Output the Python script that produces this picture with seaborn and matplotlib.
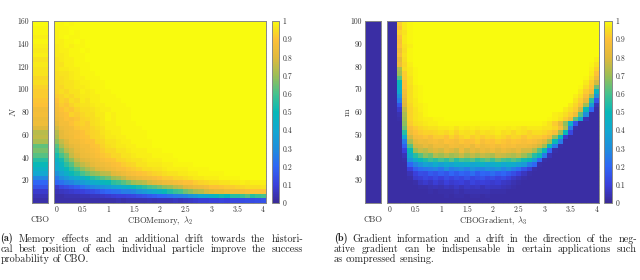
import numpy as np
import pandas as pd
import matplotlib
matplotlib.use('Agg')
import matplotlib.pyplot as plt
from matplotlib.colors import LinearSegmentedColormap
import seaborn as sns

N_COLS = 41


def row(head, tail=(), fill=100):
    # one heatmap row in percent, the long flat middle part is filled
    r = list(head) + [fill] * (N_COLS - len(head) - len(tail)) + list(tail)
    assert len(r) == N_COLS
    return r


lambdas = [i / 10 for i in range(N_COLS)]
n_values = list(range(160, 0, -4))
m_values = list(range(100, 20, -2))

cbo_memory = [100, 99, 99, 98, 99, 98, 97, 98, 96, 97, 96, 96, 94, 95, 93, 92, 92, 91, 90, 86,
              87, 84, 85, 80, 74, 75, 72, 63, 66, 62, 55, 50, 45, 40, 28, 20, 15, 8, 5, 3]
cbo_gradient = [2] * 40

memory_pct = [
    row([99, 99, 100, 99]),
    row([99, 99, 99]),
    row([98, 99, 99, 100, 99]),
    row([98, 99, 100, 99, 99]),
    row([98, 98, 99, 99, 100, 99]),
    row([97, 98, 99, 98, 99, 99]),
    row([97, 98, 98, 99, 99, 100, 99]),
    row([97, 97, 98, 99, 99, 99]),
    row([96, 97, 98, 98, 99, 99]),
    row([96, 96, 98, 98, 99, 99, 99]),
    row([96, 97, 97, 98, 98, 99, 99]),
    row([95, 96, 96, 97, 98, 99, 99, 99]),
    row([95, 95, 96, 97, 98, 98, 99, 99, 99]),
    row([94, 95, 96, 96, 97, 98, 98, 99, 99, 99]),
    row([94, 94, 96, 96, 97, 97, 98, 99, 99, 99]),
    row([93, 95, 94, 96, 96, 98, 97, 98, 99, 99, 99]),
    row([92, 93, 95, 94, 96, 97, 97, 98, 98, 99, 99, 99]),
    row([90, 93, 92, 95, 94, 97, 96, 98, 98, 99, 99, 99, 99]),
    row([88, 92, 91, 93, 95, 96, 96, 97, 98, 98, 99, 99, 99, 99]),
    row([87, 90, 92, 91, 93, 95, 95, 96, 97, 98, 98, 99, 99, 99, 99]),
    row([86, 88, 90, 93, 92, 94, 95, 95, 97, 97, 99, 98, 99, 99, 99]),
    row([84, 87, 90, 89, 91, 93, 94, 95, 96, 97, 99, 98, 99, 99, 99]),
    row([82, 87, 87, 90, 92, 93, 92, 95, 96, 97, 98, 98, 99, 99, 99, 99]),
    row([78, 84, 86, 87, 91, 92, 92, 94, 95, 96, 98, 98, 98, 99, 99, 99, 99]),
    row([74, 82, 85, 87, 88, 90, 92, 93, 94, 96, 97, 98, 98, 99, 99, 99, 99, 99]),
    row([72, 82, 84, 86, 89, 90, 91, 93, 94, 95, 97, 97, 98, 98, 99, 99, 99, 99]),
    row([68, 76, 80, 85, 86, 88, 90, 90, 93, 94, 96, 96, 97, 98, 98, 99, 99, 99, 99]),
    row([62, 72, 78, 82, 84, 87, 87, 90, 91, 93, 95, 96, 97, 97, 98, 98, 99, 99, 99]),
    row([58, 66, 74, 78, 83, 85, 87, 88, 90, 92, 94, 94, 96, 96, 97, 98, 98, 98, 99, 99, 99]),
    row([52, 60, 66, 76, 80, 84, 85, 87, 89, 91, 92, 94, 94, 96, 96, 97, 98, 98, 98, 99, 99, 99, 99]),
    row([46, 52, 62, 68, 76, 80, 82, 84, 86, 88, 90, 91, 93, 94, 95, 96, 96, 97, 98, 98, 98, 99, 99, 99]),
    row([42, 48, 56, 62, 70, 75, 78, 82, 84, 85, 87, 89, 90, 92, 93, 94, 96, 96, 97, 97, 97, 98, 98, 99, 99, 99, 99]),
    row([40, 44, 50, 56, 62, 68, 72, 76, 80, 82, 84, 86, 88, 89, 91, 92, 93, 95, 95, 96, 96, 97, 98, 98, 98, 98, 99, 99, 99, 99]),
    row([32, 38, 44, 50, 54, 60, 64, 68, 70, 74, 75, 80, 82, 84, 87, 88, 90, 91, 92, 93, 94, 95, 96, 96, 97, 97, 98, 98, 99, 99, 99, 99, 99]),
    row([25, 30, 34, 38, 42, 45, 50, 55, 58, 62, 65, 70, 72, 76, 80, 82, 84, 86, 87, 88, 90, 92, 92, 94, 94, 95, 96, 97, 97, 98, 98, 98, 99, 99, 99, 99]),
    row([20, 23, 26, 28, 32, 35, 38, 42, 44, 48, 50, 56, 58, 62, 66, 70, 72, 74, 78, 80, 82, 84, 85, 87, 88, 90, 90, 92, 93, 94, 95, 95, 96, 96, 97, 97, 98, 97, 98, 98, 98]),
    row([8, 12, 14, 16, 18, 22, 25, 28, 30, 32, 35, 38, 40, 44, 46, 50, 53, 56, 60, 62, 65, 68, 70, 74, 76, 80, 82, 84, 85, 87, 90, 90, 91, 92, 92, 93, 94, 95, 95, 95, 96]),
    row([5, 6, 7, 8, 9, 10, 12, 13, 15, 18, 20, 22, 23, 26, 26, 28, 32, 35, 38, 42, 45, 50, 54, 58, 60, 65, 68, 72, 74, 78, 80, 82, 82, 84, 85, 85, 87, 88, 90, 90, 90]),
    row([3, 3, 4, 4, 4, 5, 5, 6, 6, 7, 8, 9, 10, 10, 11, 12, 14, 15, 17, 18, 20, 21, 23, 25, 26, 28, 32, 35, 40, 40, 45, 48, 52, 50, 55, 55, 58, 62, 55, 58, 60]),
    row([3, 3, 3, 3, 3, 3, 3, 3, 3, 3, 3, 3, 4, 3, 4, 4, 4, 4, 5, 4, 5, 5, 5, 6, 5, 6, 7, 8, 9, 9, 10, 10, 11, 10, 12, 12, 13, 14, 13, 14, 15]),
]

gradient_pct = [
    row([2, 2, 92, 97, 99]),
    row([2, 2, 90, 97, 99]),
    row([2, 2, 93, 96, 99]),
    row([2, 2, 90, 97, 99]),
    row([2, 2, 88, 97, 99]),
    row([2, 2, 90, 96, 98]),
    row([2, 2, 85, 95, 99]),
    row([2, 2, 88, 96, 99]),
    row([2, 2, 82, 95, 99], [98]),
    row([2, 2, 84, 94, 98], [99, 96]),
    row([2, 2, 72, 95, 97, 99], [98, 93]),
    row([2, 2, 70, 92, 97, 99], [97, 90]),
    row([2, 2, 62, 92, 96, 99], [99, 95, 85]),
    row([2, 2, 50, 90, 96, 99], [97, 92, 78]),
    row([2, 2, 45, 90, 95, 98, 99], [99, 95, 90, 65]),
    row([2, 2, 42, 87, 95, 98, 99], [97, 92, 85, 48]),
    row([2, 2, 32, 85, 95, 98, 99], [98, 95, 88, 72, 32]),
    row([2, 2, 25, 82, 95, 97, 99], [96, 92, 82, 55, 15]),
    row([2, 2, 15, 80, 94, 97, 98, 99], [97, 94, 88, 70, 35, 5]),
    row([2, 2, 8, 75, 93, 96, 98, 99], [97, 95, 92, 78, 50, 20, 2]),
    row([2, 2, 4, 72, 93, 96, 97, 99], [98, 97, 95, 92, 85, 62, 30, 2, 2]),
    row([2, 2, 3, 70, 93, 96, 97, 98, 98, 99, 99], [99, 98, 96, 92, 85, 62, 40, 5, 2, 2]),
    row([2, 2, 2, 68, 92, 95, 96, 97, 98, 98, 99, 99], [99, 98, 96, 92, 82, 68, 45, 15, 2, 2, 2, 2], fill=99),
    row([2, 2, 2, 65, 88, 92, 94, 95, 96, 96, 97, 97, 98, 96, 98, 97, 98, 97, 98, 98, 97, 98, 98, 97, 98, 97, 96, 97, 97, 97, 96, 96, 94, 88, 72, 25, 3], fill=2),
    row([2, 2, 2, 55, 85, 90, 92, 93, 93, 94, 95, 94, 96, 93, 96, 95, 96, 94, 96, 95, 96, 97, 95, 96, 94, 96, 95, 93, 95, 95, 94, 92, 88, 70, 50, 12], fill=2),
    row([2, 2, 2, 40, 78, 87, 88, 91, 88, 92, 92, 90, 93, 91, 93, 95, 92, 94, 92, 94, 93, 95, 94, 92, 94, 93, 91, 93, 92, 92, 90, 85, 68, 50, 8], fill=2),
    row([2, 2, 2, 25, 72, 82, 85, 84, 87, 88, 86, 90, 89, 87, 91, 89, 90, 92, 88, 91, 90, 92, 91, 89, 91, 90, 88, 90, 88, 85, 80, 70, 50, 25], fill=2),
    row([2, 2, 2, 18, 62, 78, 79, 83, 80, 85, 85, 83, 87, 86, 84, 87, 83, 88, 85, 87, 88, 86, 89, 87, 88, 85, 86, 84, 82, 78, 70, 50, 25, 3], fill=2),
    row([2, 2, 2, 10, 50, 70, 76, 74, 78, 80, 78, 83, 80, 77, 84, 78, 83, 80, 84, 82, 85, 81, 84, 82, 80, 83, 78, 78, 72, 62, 50, 20, 3], fill=2),
    row([2, 2, 2, 5, 42, 55, 62, 68, 65, 73, 70, 74, 70, 72, 76, 71, 75, 72, 76, 74, 72, 77, 76, 74, 72, 75, 70, 65, 55, 50, 25, 5], fill=2),
    row([2, 2, 2, 3, 33, 42, 50, 53, 58, 55, 60, 56, 62, 55, 60, 58, 62, 56, 60, 63, 58, 64, 60, 58, 62, 58, 52, 50, 35, 20, 3], fill=2),
    row([2, 2, 2, 2, 20, 27, 32, 38, 36, 42, 37, 42, 38, 43, 40, 44, 39, 42, 45, 40, 42, 45, 40, 43, 42, 38, 35, 25, 20, 3], fill=2),
    row([2, 2, 2, 2, 10, 18, 22, 24, 25, 27, 24, 30, 25, 27, 29, 26, 31, 28, 27, 31, 29, 32, 27, 30, 25, 22, 15, 10, 3], fill=2),
    row([2, 2, 2, 2, 5, 10, 14, 13, 17, 15, 18, 16, 20, 17, 20, 18, 22, 17, 20, 19, 22, 18, 20, 17, 14, 10, 6, 3], fill=2),
    row([2, 2, 2, 2, 3, 8, 9, 12, 10, 13, 10, 14, 11, 14, 12, 15, 12, 14, 15, 12, 14, 11, 13, 10, 7, 5, 3], fill=2),
    row([2, 2, 2, 2, 2, 3, 6, 8, 6, 9, 7, 10, 8, 9, 10, 8, 11, 9, 10, 9, 8, 9, 7, 6, 4, 3], fill=2),
    row([2, 2, 2, 2, 2, 2, 3, 3, 4, 5, 4, 6, 5, 7, 5, 7, 6, 7, 5, 7, 6, 6, 5, 4, 3], fill=2),
    row([2, 2, 2, 2, 2, 2, 2, 2, 3, 2, 3, 3, 3, 4, 3, 4, 4, 4, 4, 4, 3, 3, 3], fill=2),
    row([2, 2, 2, 2, 2, 2, 2, 2, 2, 2, 2, 3, 2, 3, 3, 2, 3, 3, 2, 3], fill=2),
    row([2], fill=2),
]

lambda_ticks = [0, 0.5, 1, 1.5, 2, 2.5, 3, 3.5, 4]
n_ticks = [20, 40, 60, 80, 100, 120, 140, 160]
m_ticks = [30, 40, 50, 60, 70, 80, 90, 100]
cbar_ticks = [0, 0.1, 0.2, 0.3, 0.4, 0.5, 0.6, 0.7, 0.8, 0.9, 1]

caption_a = ['Memory effects and an additional drift towards the histori-',
             'cal best position of each individual particle improve the success',
             'probability of CBO.']
caption_b = ['Gradient information and a drift in the direction of the neg-',
             'ative gradient can be indispensable in certain applications such',
             'as compressed sensing.']

# MATLAB parula: 0.9 is still orange, only the very top is yellow
parula = LinearSegmentedColormap.from_list('parula', [
    (0.0, '#3a2a96'), (0.1, '#3a40dc'), (0.2, '#2f66f5'), (0.3, '#1f8fdc'),
    (0.4, '#12a8d0'), (0.5, '#08b8b8'), (0.6, '#45c28e'), (0.7, '#9cbe55'),
    (0.8, '#e0b93c'), (0.9, '#fdc038'), (0.95, '#f8dc22'), (1.0, '#f9fb0e')])

sns.set_theme(style='white')
plt.rcParams['font.family'] = ['cmr10', 'DejaVu Serif']
plt.rcParams['mathtext.fontset'] = 'cm'
plt.rcParams['axes.formatter.use_mathtext'] = True

W, H = 640, 280
fig = plt.figure(figsize=(W / 100, H / 100), dpi=100)


def px_axes(x0, x1, y0=21, y1=203):
    return fig.add_axes([x0 / W, 1 - y1 / H, (x1 - x0) / W, (y1 - y0) / H])


def style_axes(ax):
    ax.tick_params(which='both', direction='in', length=1.6, width=0.5, color='#111111',
                   labelsize=5.5, labelcolor='#333333', pad=2,
                   left=True, right=True, top=True, bottom=True)
    ax.tick_params(labelrotation=0)
    for s in ax.spines.values():
        s.set_visible(True)
        s.set_linewidth(0.7)
        s.set_color('#888888')


def draw_panel(x_cbo, x_main, x_cbar, cbo, pct, rows, y_ticks, y_top, y_step, y_label, x_label, ylabel_x):
    ax_cbo = px_axes(*x_cbo)
    ax_main = px_axes(*x_main)
    ax_bar = px_axes(*x_cbar)

    df = pd.DataFrame(np.array(pct) / 100, index=rows, columns=lambdas)
    df_cbo = pd.DataFrame({'CBO': np.array(cbo) / 100}, index=rows)
    sns.heatmap(df_cbo, ax=ax_cbo, cmap=parula, vmin=0, vmax=1, cbar=False,
                xticklabels=False, yticklabels=False)
    sns.heatmap(df, ax=ax_main, cmap=parula, vmin=0, vmax=1, cbar=True, cbar_ax=ax_bar,
                xticklabels=False, yticklabels=False)

    # y ticks sit on the value, rows are 4 (left) or 2 (right) units high
    y_pos = [(y_top - v) / y_step for v in y_ticks]
    ax_cbo.set_yticks(y_pos, [str(v) for v in y_ticks])
    ax_cbo.set_yticks(np.arange(len(rows) + 1), minor=True)
    ax_cbo.set_xticks([])
    ax_cbo.set_xlabel('')
    ax_cbo.set_ylabel('')
    style_axes(ax_cbo)

    ax_main.set_xticks([lambdas.index(v) + 0.5 for v in lambda_ticks], [f'{v:g}' for v in lambda_ticks])
    ax_main.set_xticks(np.arange(len(lambdas)) + 0.5, minor=True)
    ax_main.set_yticks(np.arange(len(rows) + 1), minor=True)
    ax_main.set_yticks([])
    ax_main.set_xlabel('')
    ax_main.set_ylabel('')
    style_axes(ax_main)

    fig.text(ylabel_x / W, 1 - 112 / H, y_label, rotation=90, fontsize=6.5, ha='center', va='center', color='#333333')
    fig.text(sum(x_cbo) / 2 / W, 1 - 222.5 / H, 'CBO', fontsize=6.2, ha='center', va='baseline', color='#333333')
    fig.text(sum(x_main) / 2 / W, 1 - 223 / H, x_label, fontsize=6.2, ha='center', va='baseline', color='#333333')

    cb = ax_main.collections[0].colorbar
    cb.set_ticks(cbar_ticks, labels=[f'{v:g}' for v in cbar_ticks])
    cb.ax.tick_params(which='both', direction='in', length=1.6, width=0.5, labelsize=5.5,
                      labelcolor='#333333', pad=2.5, right=True, color='#111111')
    cb.outline.set_visible(True)
    cb.outline.set_linewidth(0.7)
    cb.outline.set_edgecolor('#888888')


draw_panel((32, 47.7), (53.7, 265.7), (271.7, 279.3), cbo_memory, memory_pct, n_values, n_ticks, 160, 4,
           '$N$', '$\\mathrm{CBOMemory},\\ \\lambda_2$', 13)
draw_panel((365, 380.7), (386.7, 599), (604.3, 612), cbo_gradient, gradient_pct, m_values, m_ticks, 100, 2,
           'm', '$\\mathrm{CBOGradient},\\ \\lambda_3$', 347)


def justified(x0, x1, y, text, first_bold=None, fill=True):
    # lay out one caption line word by word, spread over the full width like LaTeX does
    r = fig.canvas.get_renderer()
    items = []
    if first_bold:
        items.append(fig.text(x0 / W, 1 - y / H, first_bold, fontsize=7.3, family='cmb10', va='baseline', color='#222222'))
    for w in text.split():
        items.append(fig.text(x0 / W, 1 - y / H, w, fontsize=7.3, va='baseline', color='#222222'))
    widths = [t.get_window_extent(r).width for t in items]
    gap = (x1 - x0 - sum(widths)) / (len(items) - 1) if fill else 3
    x = x0
    for t, wd in zip(items, widths):
        t.set_x(x / W)
        x += wd + gap


for i, (line_a, line_b) in enumerate(zip(caption_a, caption_b)):
    y = 241.5 + i * 10.4
    fill = i < 2
    justified(0.5, 303, y, line_a, first_bold='(a)' if i == 0 else None, fill=fill)
    justified(334, 637, y, line_b, first_bold='(b)' if i == 0 else None, fill=fill)

fig.savefig('out.png', dpi=100, facecolor='white')
